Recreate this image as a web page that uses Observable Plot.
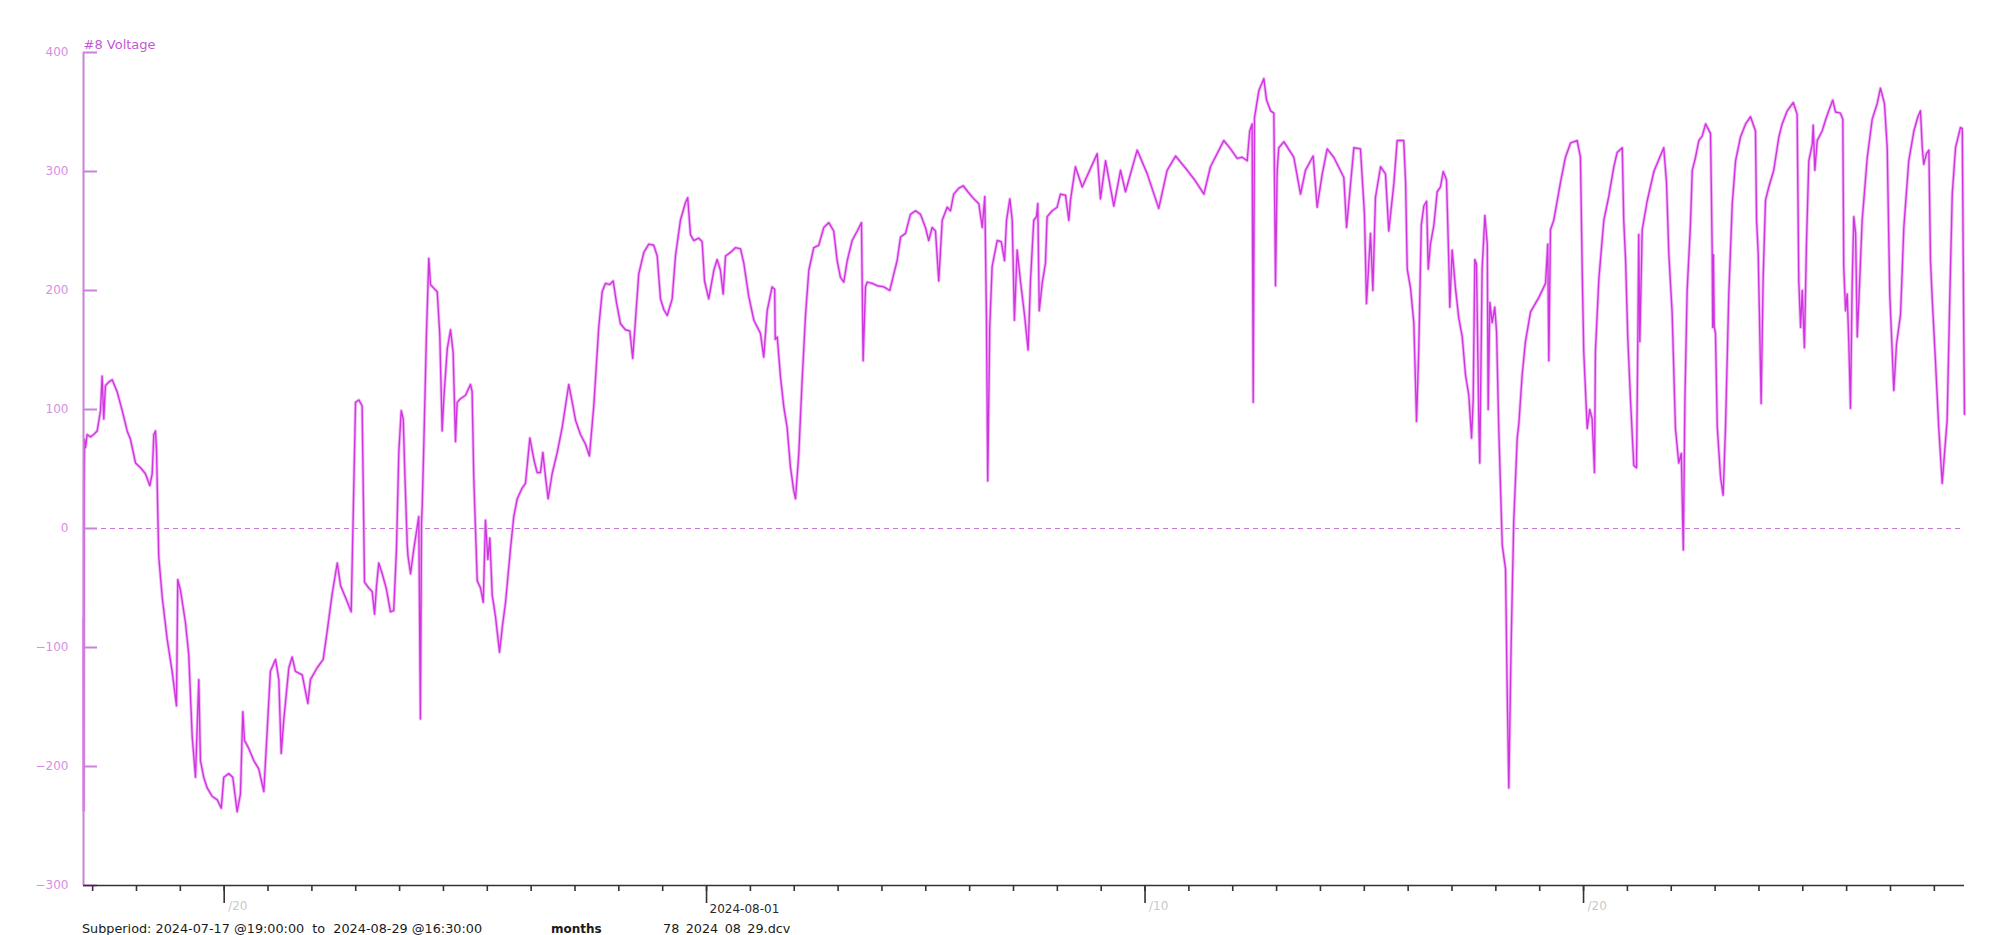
<!DOCTYPE html>
<html>
<head>
<meta charset="utf-8">
<script src="https://cdn.jsdelivr.net/npm/d3@7"></script>
<script src="https://cdn.jsdelivr.net/npm/@observablehq/plot@0.6"></script>
<style>
html, body { margin: 0; padding: 0; background: #fff; }
#wrap { position: relative; width: 1992px; height: 935px; overflow: hidden; font-family: "DejaVu Sans", sans-serif; }
#caption { position: absolute; top: 920px; left: 0; width: 1992px; height: 15px; overflow: hidden; font-size: 12.8px; color: #1a1a1a; }
#caption span { position: absolute; top: 3px; white-space: pre; line-height: 12px; }
</style>
</head>
<body>
<div id="wrap">
  <div id="chart"></div>
  <div id="caption"></div>
</div>
<script>
// ---- data ----
const seriesName = "#8 Voltage";
const startTime = "2024-07-17T19:00:00Z";
const endTime = "2024-08-29T16:30:00Z";
const captionParts = ["Subperiod: 2024-07-17 @19:00:00  to  2024-08-29 @16:30:00", "months", "78_2024_08_29.dcv"];

// hours since subperiod start
const hours = [
0,0.1,0.3,0.6,1.1,2.0,3.8,5.6,7.5,9.3,10.2,11.1,12.0,13.8,15.7,18.4,21.2,23.9,25.7,28.5,
31.2,33.9,36.3,37.6,38.5,39.4,40.0,40.7,41.2,43.1,45.8,48.5,50.9,51.6,53.1,55.8,57.6,59.5,61.3,63.1,
64.0,65.8,67.7,70.4,73.2,75.4,76.8,79.5,81.7,84.1,85.9,87.2,88.1,90.5,93.2,95.9,98.7,100.5,102.3,105.1,
106.9,108.2,109.6,112.4,114.2,116.0,119.7,122.8,124.2,127.9,131.2,133.4,136.1,138.9,140.7,143.4,146.5,147.6,148.9,150.7,
152.5,153.8,156.1,158.0,159.3,160.4,161.6,163.5,165.8,168.0,169.8,171.3,172.6,173.9,175.0,175.9,177.2,177.6,179.0,180.8,
182.6,183.5,184.4,185.0,185.4,186.3,187.7,189.0,189.9,191.7,193.6,195.0,196.3,197.2,199.1,200.9,202.3,203.6,204.5,206.3,
209.1,211.8,212.7,213.6,215.5,217.3,218.8,220.0,221.3,222.4,223.7,225.5,227.7,229.2,231.0,233.7,235.5,237.4,240.1,241.9,
244.3,246.5,248.3,250.1,251.4,252.9,254.3,256.5,259.3,262.0,265.6,267.5,269.3,272.0,274.7,276.9,279.3,282.0,283.9,285.7,
288.0,289.9,291.7,293.9,296.6,299.0,300.6,302.1,303.9,306.7,309.4,312.1,314.0,315.8,317.6,319.5,322.2,324.0,326.7,329.5,
330.7,332.2,334.0,336.8,338.6,339.9,342.2,345.0,346.8,348.6,350.1,351.4,354.1,356.8,359.6,361.4,364.1,366.9,370.5,372.3,
374.2,376.9,378.3,378.6,379.7,381.5,383.3,385.1,386.9,388.7,389.7,391.5,393.3,395.2,397.0,399.7,402.4,405.2,407.9,410.6,
412.5,414.3,416.1,418.0,420.7,423.5,425.8,426.7,428.0,428.9,431.7,434.4,438.0,441.3,443.5,445.3,447.2,449.9,452.6,455.4,
458.1,460.8,462.6,464.5,466.3,468.1,470.0,472.7,474.5,476.3,479.1,481.5,484.0,487.3,490.0,491.9,493.3,494.2,494.9,496.0,
497.3,500.1,502.3,504.1,505.2,507.0,508.3,509.5,511.0,512.8,515.0,517.0,518.3,520.1,521.6,522.3,523.1,524.7,526.5,527.4,
530.2,532.9,534.7,537.5,539.3,540.2,542.9,546.6,554.8,556.6,559.4,563.9,567.6,570.3,576.7,582.2,588.5,593.1,597.7,604.1,
608.6,613.2,616.8,624.1,627.8,631.4,634.2,636.9,638.3,639.6,640.2,640.9,643.3,646.0,647.5,649.7,651.5,652.4,653.3,654.2,
657.0,662.4,666.1,668.8,673.0,675.2,678.0,680.7,684.3,689.8,691.3,692.5,695.3,698.9,701.1,702.2,704.4,705.7,707.1,709.9,
712.6,714.4,717.2,719.0,722.6,723.6,724.5,726.3,728.1,729.6,730.8,732.2,733.6,735.1,736.0,737.2,739.1,740.9,742.7,744.2,
746.0,747.3,747.8,749.1,750.9,752.7,754.6,756.4,758.2,759.7,760.6,761.5,762.4,763.7,764.2,765.5,767.0,768.3,768.8,769.7,
771.0,772.4,773.4,774.6,776.5,778.3,779.2,780.1,781.4,782.8,784.7,785.6,787.4,789.2,792.0,796.5,800.2,801.4,802.0,802.9,
804.7,808.4,811.1,813.9,817.5,819.3,820.3,821.1,823.0,824.4,825.7,827.0,827.5,829.4,832.1,834.8,837.6,839.4,842.2,843.0,
844.0,845.2,846.7,848.5,850.0,850.7,851.2,851.8,853.1,855.8,859.5,862.2,864.9,866.4,867.7,869.5,871.3,873.1,874.5,875.6,
876.5,877.7,879.5,880.5,882.3,884.1,886.0,887.8,890.5,891.4,891.7,892.1,892.5,893.2,894.2,896.0,897.4,898.7,900.5,902.4,
904.2,906.9,909.7,912.4,915.1,915.7,916.6,917.9,918.2,919.3,920.6,922.4,925.1,927.9,929.7,932.5,935.8,937.9,938.8,939.8,
940.7,941.9,943.0,944.3,946.2,946.7,947.6,948.9,951.6,953.4,955.2,957.4,958.9,961.6,962.9,963.4,964.4,965.3,966.2,967.1,
968.0,968.9,969.9,970.8,971.7,973.5,976.3,979.0,981.7,983.5,985.7,987.2,988.6,989.9,990.8,992.3,994.5,996.3,999.0,1001.8,
1004.0,1005.4,1006.4,1007.2,1008.7,1010.0,1010.9,1011.8,1013.6,1015.4,1017.3,1020.0,1021.5,1022.8,1024.6,1027.3,1028.3,1029.1,1029.5
];

// voltage readings
const volts = [
-75,-237,30,75,68,79,77,79,82,99,128,92,120,123,125,115,99,82,75,55,
51,46,36,46,79,82,65,10,-24,-58,-93,-120,-149,-43,-52,-79,-106,-175,-209,-127,
-195,-209,-218,-225,-228,-235,-209,-206,-209,-238,-223,-154,-178,-185,-195,-202,-221,-171,-120,-110,
-127,-189,-161,-117,-108,-120,-123,-147,-127,-117,-110,-86,-55,-29,-48,-58,-70,10,106,108,
103,-45,-50,-53,-72,-48,-29,-38,-51,-70,-69,-17,65,99,92,45,-14,-23,-38,-17,
1,10,-160,5,19,73,163,227,205,202,199,163,82,109,151,167,148,73,106,109,
112,121,115,43,-44,-50,-62,7,-26,-8,-56,-74,-104,-83,-62,-17,10,25,34,38,
76,58,47,47,64,43,25,46,64,85,121,106,91,79,71,61,103,169,199,206,
205,208,190,172,167,166,143,175,214,232,239,238,229,193,184,179,193,229,259,274,
278,247,242,244,241,208,193,217,226,217,197,229,232,236,235,223,195,175,164,144,
183,203,201,159,161,127,102,85,52,32,25,63,124,180,217,236,238,253,257,250,
225,211,207,225,242,250,257,141,203,207,206,204,203,200,214,225,245,248,264,267,
264,253,242,253,250,208,259,270,267,281,286,288,283,277,273,253,279,178,40,169,
220,242,241,225,259,277,259,175,234,208,180,150,208,259,262,273,183,206,223,262,
267,270,281,280,259,276,304,287,315,277,309,271,301,283,318,298,269,301,313,301,
292,281,304,326,319,311,312,309,334,340,106,345,368,378,360,351,349,204,300,320,
325,312,281,301,313,270,298,319,312,295,253,273,320,319,264,189,248,200,278,304,
298,250,290,326,326,291,218,202,173,90,149,255,271,275,218,239,255,283,287,300,
293,222,186,234,202,177,161,129,112,76,108,226,222,88,55,218,263,239,100,190,
173,186,165,84,-14,-34,-136,-218,-95,6,76,88,129,157,182,194,206,239,141,251,
259,291,312,324,326,312,214,149,84,100,92,47,149,210,259,279,304,316,320,259,
226,161,108,53,51,157,247,157,251,275,300,310,320,291,230,181,84,55,63,-18,
110,200,255,301,312,326,330,340,332,234,169,230,170,164,85,43,28,85,197,273,
309,329,340,346,334,259,231,130,105,211,276,287,301,329,340,351,358,348,208,169,
200,152,239,309,323,339,301,326,334,343,351,360,350,349,344,220,183,197,155,101,
203,262,248,161,192,259,312,344,357,370,357,320,197,150,116,155,180,253,309,334,
346,351,320,306,315,318,225,194,141,85,38,91,197,281,320,337,336,164,96
];

const yTicks = [-300, -200, -100, 0, 100, 200, 300, 400];
const majorTickDates = ["2024-07-21", "2024-08-01", "2024-08-11", "2024-08-21"];
const majorTickLabels = ["/20", "2024-08-01", "/10", "/20"];

// ---- build ----
const t0 = new Date(startTime);
const t1 = new Date(endTime);
const series = hours.map((h, i) => ({time: new Date(+t0 + h * 3600e3), v: volts[i]}));
const dayTicks = d3.utcDay.range(d3.utcDay.ceil(t0), t1);
const majors = majorTickDates.map((d, i) => ({date: new Date(d + "T00:00:00Z"), label: majorTickLabels[i]}));

const W = 1992, H = 920, ML = 83, MR = 28, MT = 52, MB = 35;
const frameW = W - ML - MR;

const chart = Plot.plot({
  width: W, height: H,
  marginLeft: ML, marginRight: MR, marginTop: MT, marginBottom: MB,
  style: {fontFamily: '"DejaVu Sans", sans-serif', fontSize: "12px", background: "#fff", overflow: "visible"},
  x: {type: "utc", domain: [t0, t1], label: null},
  y: {domain: [-300, 400], label: null},
  marks: [
    Plot.ruleY([0], {stroke: "#c37ad3", strokeDasharray: "5,4", strokeWidth: 1.2}),
    Plot.line(series, {x: "time", y: "v", stroke: "#f3b9f8", strokeWidth: 3.2, strokeLinejoin: "round"}),
    Plot.line(series, {x: "time", y: "v", stroke: "#cf36df", strokeWidth: 1.4, strokeLinejoin: "round"}),
    Plot.ruleX([t0], {stroke: "#c883d8", strokeWidth: 2}),
    Plot.tickY(yTicks, {y: d => d, stroke: "#c883d8", strokeWidth: 2, insetRight: frameW - 14}),
    Plot.axisY({ticks: yTicks, tickSize: 0, tickPadding: 15, color: "#d690e3", fontSize: 12, label: null}),
    Plot.ruleY([-300], {stroke: "#333", strokeWidth: 1.6}),
    Plot.axisX({ticks: dayTicks, tickSize: 6, tickFormat: () => "", stroke: "#333", strokeWidth: 1.6, label: null}),
    Plot.axisX({ticks: majors.map(d => d.date), tickSize: 18, tickFormat: () => "", stroke: "#333", strokeWidth: 1.6, label: null}),
    Plot.text(majors.filter(d => d.label.startsWith("/")), {x: "date", text: "label", frameAnchor: "bottom", dy: 24, dx: 4, textAnchor: "start", fill: "#c9c9c9", fontSize: 12}),
    Plot.text(majors.filter(d => !d.label.startsWith("/")), {x: "date", text: "label", frameAnchor: "bottom", dy: 27, dx: 3, textAnchor: "start", fill: "#2a2a2a", fontSize: 12}),
    Plot.text([seriesName], {text: d => d, frameAnchor: "top-left", dy: -13, textAnchor: "start", fill: "#c259d6", fontSize: 13})
  ]
});
document.getElementById("chart").appendChild(chart);

// caption
const capLeft = [82, 551, 663];
const cap = document.getElementById("caption");
captionParts.forEach((t, i) => {
  const s = document.createElement("span");
  s.textContent = t;
  s.style.left = capLeft[i] + "px";
  if (t === "months") { s.style.fontWeight = "bold"; s.style.fontSize = "12px"; }
  cap.appendChild(s);
});
</script>
</body>
</html>
